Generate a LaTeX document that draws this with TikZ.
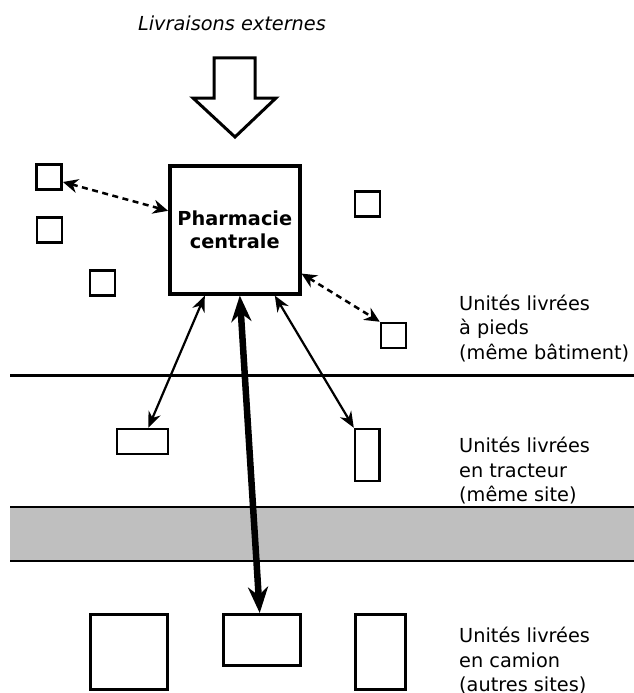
\documentclass[tikz,border=0pt]{standalone}
\usepackage{fontspec}
\setmainfont{DejaVu Sans}
\usetikzlibrary{arrows.meta}
\tikzset{
  labelfont/.style={font=\fontsize{19.3}{24.5}\selectfont},
  pharma/.style={rectangle, draw=black, line width=3.5pt, inner sep=0pt, minimum width=130pt, minimum height=128pt, align=center, font=\fontsize{19.3}{23.5}\selectfont\bfseries},
  unitbox/.style={rectangle, draw=black, line width=2.5pt, inner sep=0pt, minimum size=25pt},
  bigbox/.style={rectangle, draw=black, line width=3pt, inner sep=0pt},
  unitlbl/.style={labelfont, align=left, inner sep=0pt, anchor=north west},
  footlink/.style={{Stealth[length=15pt,width=14pt]}-{Stealth[length=15pt,width=14pt]}, line width=2.5pt, dash pattern=on 6pt off 4.5pt},
  tractlink/.style={{Stealth[length=16pt,width=13pt]}-{Stealth[length=16pt,width=13pt]}, line width=2.2pt},
  trucklink/.style={{Stealth[length=26pt,width=20pt]}-{Stealth[length=26pt,width=20pt]}, line width=6.5pt},
  zoneline/.style={line width=2.5pt},
}

\begin{document}
\begin{tikzpicture}[x=1pt, y=-1pt]
  \useasboundingbox (0,0) rectangle (634,693);

  % zones
  \fill[black!25] (10,507) rectangle (634,561);
  \draw[zoneline] (10,375.5) -- (634,375.5);
  \draw[zoneline] (10,507) -- (634,507);
  \draw[zoneline] (10,561) -- (634,561);

  % incoming deliveries
  \node[labelfont, anchor=base] (livr) at (232,31) {\itshape Livraisons externes};
  \draw[line width=3pt, fill=white, line join=miter]
    (214,58) -- (255,58) -- (255,98) -- (276,98) -- (235,137) -- (193,98) -- (214,98) -- cycle;

  \node[pharma] (pc) at (234.8,229.8) {Pharmacie\\centrale};

  % units on foot
  \node[unitbox] (p1) at (49.2,177) {};
  \node[unitbox] (p2) at (49.3,230) {};
  \node[unitbox] (p3) at (102.5,283) {};
  \node[unitbox] (p4) at (367.3,204) {};
  \node[unitbox] (p5) at (393.5,335.5) {};

  % units by tractor
  \node[unitbox, minimum width=51pt, minimum height=25pt] (t1) at (142.3,441.5) {};
  \node[unitbox, minimum width=24.5pt, minimum height=52pt] (t2) at (367.3,455) {};

  % units by truck
  \node[bigbox, minimum width=77pt, minimum height=75pt] (c1) at (129,652) {};
  \node[bigbox, minimum width=77pt, minimum height=51pt] (c2) at (261.7,640) {};
  \node[bigbox, minimum width=50pt, minimum height=75pt] (c3) at (380.3,652) {};

  \node[unitlbl] (lp) at (459,294.5) {Unités livrées\\à pieds\\(même bâtiment)};
  \node[unitlbl] (lt) at (459,437) {Unités livrées\\en tracteur\\(même site)};
  \node[unitlbl] (lc) at (459,627) {Unités livrées\\en camion\\(autres sites)};

  \draw[footlink] ([yshift=-5pt]p1.east) -- ([yshift=19pt]pc.west);
  \draw[footlink] ([yshift=22pt]pc.south east) -- (p5.north west);
  \draw[tractlink] ([xshift=-30pt]pc.south) -- ([xshift=6pt]t1.north);
  \draw[tractlink] ([xshift=40pt]pc.south) -- (t2.north west);
  \draw[trucklink] ([xshift=5pt]pc.south) -- ([xshift=-2pt]c2.north);
\end{tikzpicture}
\end{document}
